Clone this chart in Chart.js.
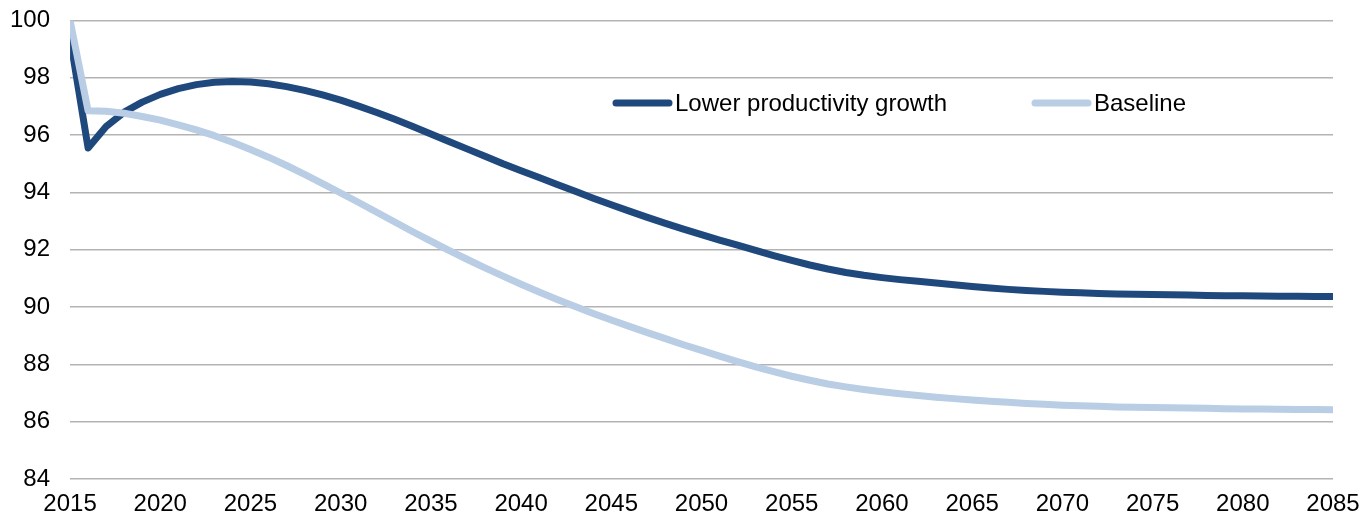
<!DOCTYPE html>
<html>
<head>
<meta charset="utf-8">
<script src="https://cdn.jsdelivr.net/npm/chart.js@4/dist/chart.umd.min.js"></script>
<style>
  html, body { margin: 0; padding: 0; background: #fff; }
  #wrap { width: 1363px; height: 516px; position: relative; }
</style>
</head>
<body>
<div id="wrap"><canvas id="productivity"></canvas></div>
<script>
// annual values, 2015 to 2085
const firstYear = 2015;
const lastYear = 2085;

const lowerProductivity = [
  99.40, 95.55, 96.30, 96.80, 97.15, 97.42, 97.62, 97.76, 97.84, 97.87,
  97.85, 97.79, 97.69, 97.56, 97.40, 97.22, 97.01, 96.79, 96.55, 96.30,
  96.04, 95.78, 95.52, 95.26, 95.00, 94.76, 94.52, 94.28, 94.04, 93.80,
  93.57, 93.35, 93.13, 92.92, 92.72, 92.53, 92.34, 92.16, 91.98, 91.80,
  91.63, 91.47, 91.33, 91.21, 91.11, 91.03, 90.96, 90.90, 90.84, 90.78,
  90.72, 90.67, 90.62, 90.58, 90.55, 90.52, 90.50, 90.48, 90.46, 90.45,
  90.44, 90.43, 90.42, 90.41, 90.40, 90.40, 90.39, 90.38, 90.38, 90.37,
  90.37
];

const baseline = [
  100.00, 96.85, 96.83, 96.76, 96.65, 96.52, 96.36, 96.18, 95.98, 95.75,
  95.50, 95.23, 94.94, 94.63, 94.31, 93.98, 93.65, 93.31, 92.97, 92.63,
  92.30, 91.98, 91.67, 91.37, 91.08, 90.80, 90.53, 90.27, 90.02, 89.78,
  89.55, 89.33, 89.11, 88.90, 88.69, 88.49, 88.29, 88.10, 87.92, 87.75,
  87.59, 87.45, 87.32, 87.22, 87.13, 87.05, 86.98, 86.92, 86.86, 86.81,
  86.76, 86.72, 86.68, 86.64, 86.61, 86.58, 86.56, 86.54, 86.52, 86.51,
  86.50, 86.49, 86.48, 86.47, 86.46, 86.45, 86.45, 86.44, 86.43, 86.43,
  86.42
];

const seriesNames = ['Lower productivity growth', 'Baseline'];
const yMin = 84, yMax = 100, yStep = 2;
const xStep = 5;

const years = Array.from({ length: lastYear - firstYear + 1 }, (_, i) => firstYear + i);
const toPoints = vals => vals.map((v, i) => ({ x: years[i], y: v }));

const darkBlue = '#1f497d';
const lightBlue = '#b9cde5';
const font = { family: 'Liberation Sans, Arial, sans-serif', size: 24 };

// legend drawn inside the plot, line sample followed by its label
const innerLegend = {
  id: 'innerLegend',
  afterDatasetsDraw(chart) {
    const ctx = chart.ctx;
    const spots = [613, 1032];
    const y = 103;
    ctx.save();
    ctx.font = `${font.size}px ${font.family}`;
    ctx.textBaseline = 'middle';
    ctx.fillStyle = '#000';
    chart.data.datasets.forEach((ds, i) => {
      const x = spots[i];
      ctx.strokeStyle = ds.borderColor;
      ctx.lineWidth = 7;
      ctx.lineCap = 'round';
      ctx.beginPath();
      ctx.moveTo(x + 3, y);
      ctx.lineTo(x + 56, y);
      ctx.stroke();
      ctx.fillText(ds.label, x + 62, y + 1);
    });
    ctx.restore();
  }
};

new Chart(document.getElementById('productivity'), {
  type: 'line',
  data: {
    datasets: [
      {
        label: seriesNames[0],
        data: toPoints(lowerProductivity),
        borderColor: darkBlue,
        borderWidth: 7,
        pointRadius: 0,
        borderJoinStyle: 'round',
        borderCapStyle: 'round',
        order: 1
      },
      {
        label: seriesNames[1],
        data: toPoints(baseline),
        borderColor: lightBlue,
        borderWidth: 7,
        pointRadius: 0,
        borderJoinStyle: 'round',
        borderCapStyle: 'round',
        order: 0
      }
    ]
  },
  options: {
    responsive: true,
    maintainAspectRatio: false,
    animation: false,
    layout: { padding: { left: 4, right: 30, top: 0, bottom: -6 } },
    plugins: {
      legend: { display: false },
      tooltip: { enabled: false }
    },
    scales: {
      x: {
        type: 'linear',
        min: firstYear,
        max: lastYear,
        grid: { display: false },
        border: { display: false },
        ticks: { stepSize: xStep, color: '#000', font, padding: 3, maxRotation: 0, callback: v => String(v) }
      },
      y: {
        min: yMin,
        max: yMax,
        // invisible tick marks keep the labels clear of the plot
        grid: { color: '#b3b3b3', lineWidth: 1.6, drawTicks: true, tickLength: 14, tickColor: 'rgba(0,0,0,0)' },
        border: { display: false },
        ticks: { stepSize: yStep, color: '#000', font, padding: 6 }
      }
    }
  },
  plugins: [innerLegend]
});
</script>
</body>
</html>
